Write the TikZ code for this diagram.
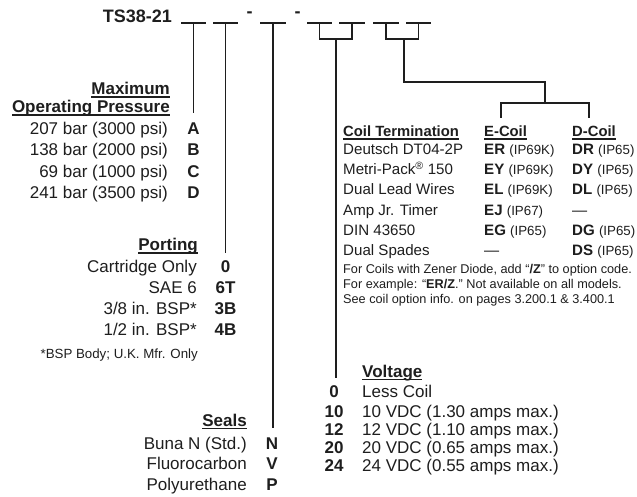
\documentclass[tikz,border=0pt]{standalone}
\usepackage{fontspec}
\setmainfont{Liberation Sans}
\definecolor{ink}{HTML}{1E1E1E}
\newcommand{\ulin}[1]{\setbox0=\hbox{#1}\rlap{\rule[-2.6pt]{\wd0}{1.1pt}}\box0}
\newcommand{\ipx}[1]{{\fontsize{13.3}{15}\selectfont\mdseries #1}}
\tikzset{
  base/.style={inner sep=0pt, text=ink},
  lbl/.style={base, font=\fontsize{17}{20}\selectfont, anchor=base east},
  lblw/.style={base, font=\fontsize{17}{20}\selectfont, anchor=base west},
  hd/.style={base, font=\fontsize{17}{20}\selectfont\bfseries, anchor=base east},
  hdw/.style={base, font=\fontsize{17}{20}\selectfont\bfseries, anchor=base west},
  code/.style={base, font=\fontsize{17}{20}\selectfont\bfseries, anchor=base},
  coil/.style={base, font=\fontsize{15.1}{17}\selectfont, anchor=base west},
  coilhd/.style={base, font=\fontsize{14.8}{17}\selectfont\bfseries, anchor=base west},
  note/.style={base, font=\fontsize{12.7}{15}\selectfont, anchor=base west},
  fnote/.style={base, font=\fontsize{13.3}{15}\selectfont, anchor=base east},
  wire/.style={draw=ink, line width=1.1pt},
}
\begin{document}
\begin{tikzpicture}[x=1pt,y=-1pt]
\useasboundingbox[fill=white] (0,0) rectangle (637,497);

% header
\node[base, font=\fontsize{18}{21}\selectfont\bfseries, anchor=base east] (title) at (172,23) {TS38-21};
\node[base, font=\fontsize{18}{21}\selectfont\bfseries] (dashA) at (249.5,15) {-};
\node[base, font=\fontsize{18}{21}\selectfont\bfseries] (dashB) at (297.5,15) {-};

% blanks
\foreach \n/\a/\b in {1/181/206, 2/213/238, 3/260/286, 4/307/332, 5/339/365, 6/373/399, 7/406/431}{
  \coordinate (bl\n) at (\a,23); \coordinate (br\n) at (\b,23);
  \draw[wire] (bl\n) -- (br\n);
}
\coordinate (s1) at (193.5,23); \coordinate (e1) at (193.5,113);
\coordinate (s2) at (225.5,23); \coordinate (e2) at (225.5,253);
\coordinate (s3) at (273,23);   \coordinate (e3) at (273,428);
\draw[wire] (s1) -- (e1);
\draw[wire] (s2) -- (e2);
\draw[wire] (s3) -- (e3);

% bracket for voltage
\coordinate (t4) at (319.5,23); \coordinate (t5) at (352,23);
\coordinate (k4) at (319.5,39); \coordinate (k5) at (352,39);
\coordinate (v0) at (336,39); \coordinate (v1) at (336,378);
\draw[wire] (t4) -- (k4) -- (k5) -- (t5);
\draw[wire] (v0) -- (v1);

% bracket for coil termination
\coordinate (t6) at (386,23); \coordinate (t7) at (418.5,23);
\coordinate (k6) at (386,39); \coordinate (k7) at (418.5,39);
\coordinate (c0) at (404,39); \coordinate (c1) at (404,82);
\coordinate (c2) at (545,82); \coordinate (c3) at (545,103);
\coordinate (ce0) at (501,103); \coordinate (ce1) at (501,118);
\coordinate (cd0) at (589,103); \coordinate (cd1) at (589,118);
\draw[wire] (t6) -- (k6) -- (k7) -- (t7);
\draw[wire] (c0) -- (c1) -- (c2) -- (c3);
\draw[wire] (ce1) -- (ce0) -- (cd0) -- (cd1);

% Maximum operating pressure
\node[hd] (mp1) at (170,95) {\ulin{Maximum}};
\node[hd] (mp2) at (170,113) {\ulin{Operating Pressure}};
\node[lbl] (pa) at (168,135) {207 bar (3000 psi)};
\node[lbl] (pb) at (168,156) {138 bar (2000 psi)};
\node[lbl] (pc) at (168,178) {69 bar (1000 psi)};
\node[lbl] (pd) at (168,199) {241 bar (3500 psi)};
\node[code] (ca) at (193.5,135) {A};
\node[code] (cb) at (193.5,156) {B};
\node[code] (cc) at (193.5,178) {C};
\node[code] (cdd) at (193.5,199) {D};

% Porting
\node[hd] (pt) at (198,251) {\ulin{Porting}};
\node[lbl] (p0) at (197,272) {Cartridge Only};
\node[lbl] (p1) at (197,293) {SAE 6};
\node[lbl] (p2) at (197,314) {3/8 in. BSP*};
\node[lbl] (p3) at (197,335) {1/2 in. BSP*};
\node[code] (q0) at (225.5,272) {0};
\node[code] (q1) at (225.5,293) {6T};
\node[code] (q2) at (225.5,314) {3B};
\node[code] (q3) at (225.5,335) {4B};
\node[fnote] (fn) at (198,358) {*BSP Body; U.K. Mfr. Only};

% Seals
\node[hd] (sh) at (247,426) {\ulin{Seals}};
\node[lbl] (s0) at (247,449) {Buna N (Std.)};
\node[lbl] (s1l) at (247,469) {Fluorocarbon};
\node[lbl] (s2l) at (247,490) {Polyurethane};
\node[code] (n0) at (272,449) {N};
\node[code] (n1) at (272,469) {V};
\node[code] (n2) at (272,490) {P};

% Voltage
\node[hdw] (vh) at (362,377) {\ulin{Voltage}};
\foreach \c/\t/\y [count=\i] in {0/Less Coil/397, 10/10 VDC (1.30 amps max.)/417, 12/12 VDC (1.10 amps max.)/435, 20/20 VDC (0.65 amps max.)/453, 24/24 VDC (0.55 amps max.)/471}{
  \node[code] (vc\i) at (334,\y) {\c};
  \node[lblw] (vt\i) at (362,\y) {\t};
}

% Coil termination
\node[coilhd] (ct) at (343,137) {\ulin{Coil Termination}};
\node[coilhd] (ec) at (484,137) {\ulin{E-Coil}};
\node[coilhd] (dc) at (572,137) {\ulin{D-Coil}};
\node[coil] (r1) at (343,155) {Deutsch DT04-2P};
\node[coil] (r2) at (343,175) {Metri-Pack\textsuperscript{®} 150};
\node[coil] (r3) at (343,195) {Dual Lead Wires};
\node[coil] (r4) at (343,215) {Amp Jr. Timer};
\node[coil] (r5) at (343,235) {DIN 43650};
\node[coil] (r6) at (343,255) {Dual Spades};
\node[coil] (e1c) at (484,155) {\textbf{ER} \ipx{(IP69K)}};
\node[coil] (e2c) at (484,175) {\textbf{EY} \ipx{(IP69K)}};
\node[coil] (e3c) at (484,195) {\textbf{EL} \ipx{(IP69K)}};
\node[coil] (e4c) at (484,215) {\textbf{EJ} \ipx{(IP67)}};
\node[coil] (e5c) at (484,235) {\textbf{EG} \ipx{(IP65)}};
\node[coil] (e6c) at (484,255) {—};
\node[coil] (d1c) at (572,155) {\textbf{DR} \ipx{(IP65)}};
\node[coil] (d2c) at (572,175) {\textbf{DY} \ipx{(IP65)}};
\node[coil] (d3c) at (572,195) {\textbf{DL} \ipx{(IP65)}};
\node[coil] (d4c) at (572,215) {—};
\node[coil] (d5c) at (572,235) {\textbf{DG} \ipx{(IP65)}};
\node[coil] (d6c) at (572,255) {\textbf{DS} \ipx{(IP65)}};
\node[note] (n1t) at (343,273) {For Coils with Zener Diode, add “\textbf{/Z}” to option code.};
\node[note] (n2t) at (343,288) {For example: “\textbf{ER/Z}.” Not available on all models.};
\node[note] (n3t) at (343,303) {See coil option info. on pages 3.200.1 \& 3.400.1};
\end{tikzpicture}
\end{document}
